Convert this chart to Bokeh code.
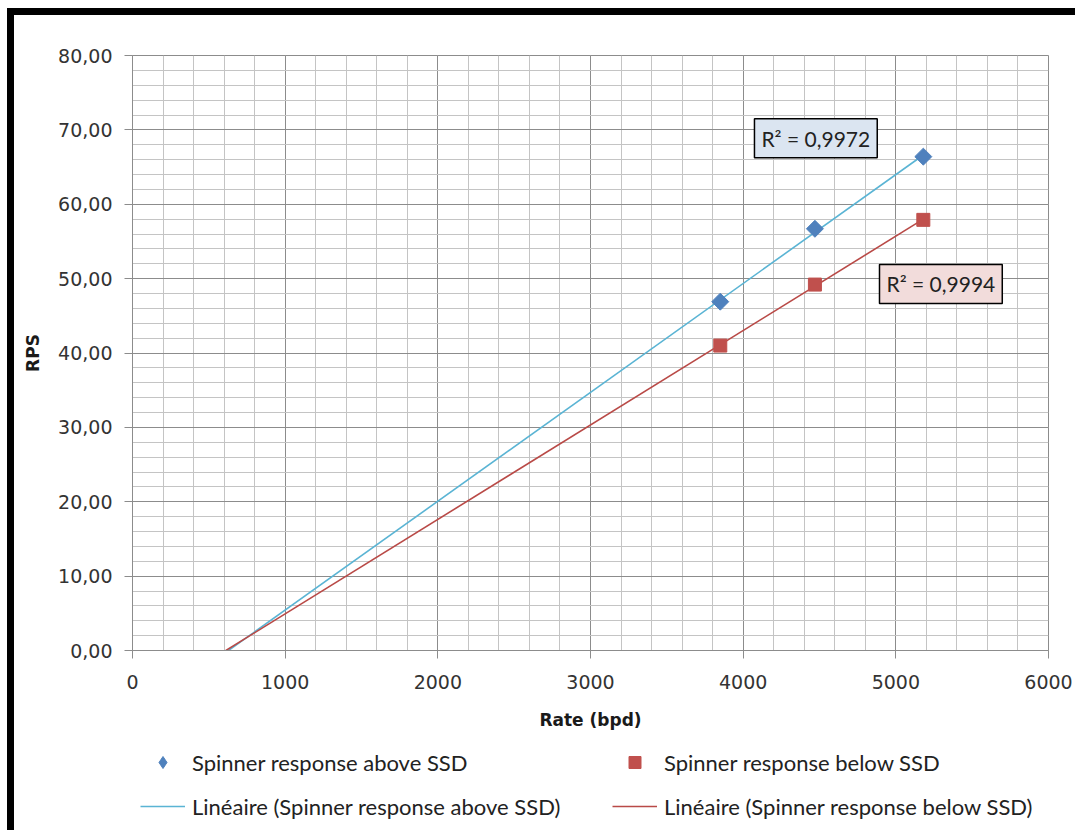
import numpy as np
from bokeh.plotting import figure
from bokeh.layouts import column
from bokeh.models import (Legend, LegendItem, Label, CustomJSTickFormatter,
                          FixedTicker, Range1d)
from bokeh.embed import file_html
from bokeh.resources import INLINE

# ---- data ----
rate = [3850, 4470, 5180]
above_rps = [46.9, 56.7, 66.4]
below_rps = [41.0, 49.2, 57.9]
above_label = "Spinner response above SSD"
below_label = "Spinner response below SSD"
above_fit_label = "Linéaire (Spinner response above SSD)"
below_fit_label = "Linéaire (Spinner response below SSD)"
above_r2 = "R² = 0,9972"
below_r2 = "R² = 0,9994"
x_ticks = [0, 1000, 2000, 3000, 4000, 5000, 6000]
y_ticks = [0, 10, 20, 30, 40, 50, 60, 70, 80]

BLUE = "#4f81bd"
RED = "#c0504d"
BLUE_LINE = "#5ab4d4"
RED_LINE = "#b94a47"
MAJOR = "#8c8c8c"
MINOR = "#c4c4c4"
TICKFONT = "DejaVu Sans"
LEGFONT = "Lato"
W = 1068

p = figure(width=W, height=725, output_backend="svg", toolbar_location=None,
           x_range=Range1d(0, 6000), y_range=Range1d(0, 80),
           min_border_left=118, min_border_right=34, min_border_top=40,
           min_border_bottom=90)
p.outline_line_color = MAJOR
p.background_fill_color = "white"
p.border_fill_color = "white"

for ax in (p.xaxis[0], p.yaxis[0]):
    ax.axis_line_color = MAJOR
    ax.major_tick_line_color = MAJOR
    ax.major_tick_out = 8
    ax.major_tick_in = 0
    ax.minor_tick_line_color = None
    ax.major_label_text_font = TICKFONT
    ax.major_label_text_font_size = "19px"
    ax.major_label_text_color = "#333333"
    ax.axis_label_text_font = TICKFONT
    ax.axis_label_text_font_style = "bold"
    ax.axis_label_text_font_size = "17px"
    ax.axis_label_text_color = "#1a1a1a"

p.xaxis.ticker = FixedTicker(ticks=x_ticks, minor_ticks=list(range(0, 6001, 200)))
p.yaxis.ticker = FixedTicker(ticks=y_ticks, minor_ticks=list(range(0, 81, 2)))
p.yaxis.formatter = CustomJSTickFormatter(code="return tick.toFixed(2).replace('.', ',');")
p.xaxis.axis_label = "Rate (bpd)"
p.yaxis.axis_label = "RPS"
p.xaxis.major_label_standoff = 16
p.xaxis.axis_label_standoff = 18
p.yaxis.major_label_standoff = 12
p.yaxis.axis_label_standoff = 12

for g in (p.xgrid[0], p.ygrid[0]):
    g.grid_line_color = MAJOR
    g.grid_line_width = 1
    g.minor_grid_line_color = MINOR
    g.minor_grid_line_width = 1

# linear trend lines (least squares, extended back to RPS = 0)
def trend(xs, ys):
    m, b = np.polyfit(xs, ys, 1)
    x0 = -b / m
    x1 = max(xs)
    return [x0, x1], [0.0, m * x1 + b]

ax_, ay_ = trend(rate, above_rps)
bx_, by_ = trend(rate, below_rps)
p.line(ax_, ay_, line_color=BLUE_LINE, line_width=1.6)
p.line(bx_, by_, line_color=RED_LINE, line_width=1.6)

p.scatter(rate, above_rps, marker="square", angle=np.pi / 4, size=12,
          fill_color=BLUE, line_color=BLUE)
p.scatter(rate, below_rps, marker="square", size=13, fill_color=RED, line_color=RED)

# R² labels
for (lx, ly, txt, fill) in [(4074, 71.5, above_r2, "#dbe5f1"),
                            (4893, 51.9, below_r2, "#f2dcdb")]:
    p.add_layout(Label(x=lx, y=ly, text=txt, text_align="left", text_baseline="top",
                       text_font=LEGFONT, text_font_size="21px", text_color="#222222",
                       background_fill_color=fill, border_line_color="black",
                       border_line_width=1.5, padding=7))

# ---- legend strip below the chart (its frame is aligned with the chart's) ----
LH = 97
lf = figure(width=W, height=LH, output_backend="svg", toolbar_location=None,
            x_range=Range1d(0, 1), y_range=Range1d(0, 1),
            min_border=0, x_axis_type=None, y_axis_type=None)
lf.grid.visible = False
lf.outline_line_color = None
lf.background_fill_color = "white"
lf.border_fill_color = "white"

# legend proxies: same series, but outside this strip's (0..1) ranges -> not drawn
r_a = lf.scatter(rate, above_rps, marker="diamond", fill_color=BLUE, line_color=BLUE)
r_al = lf.line(ax_, ay_, line_color=BLUE_LINE, line_width=1.6)
r_b = lf.scatter(rate, below_rps, marker="square", fill_color=RED, line_color=RED)
r_bl = lf.line(bx_, by_, line_color=RED_LINE, line_width=1.6)

def make_legend(items, xloc):
    return Legend(items=items, location=(xloc, 16), orientation="vertical",
                  glyph_width=45, glyph_height=30, label_height=30, spacing=14,
                  padding=0, margin=0, label_standoff=7,
                  label_text_font=LEGFONT, label_text_font_size="22px",
                  label_text_color="#222222",
                  border_line_color=None, background_fill_alpha=0)

lf.add_layout(make_legend([LegendItem(label=above_label, renderers=[r_a]),
                           LegendItem(label=above_fit_label, renderers=[r_al])], 8))
lf.add_layout(make_legend([LegendItem(label=below_label, renderers=[r_b]),
                           LegendItem(label=below_fit_label, renderers=[r_bl])], 480))

page = column(p, lf, spacing=0,
              styles={"margin-left": "14px", "margin-top": "15px",
                      "box-shadow": "-7px -7px 0px 0px black"})

open("out.html", "w").write(file_html(page, INLINE))
